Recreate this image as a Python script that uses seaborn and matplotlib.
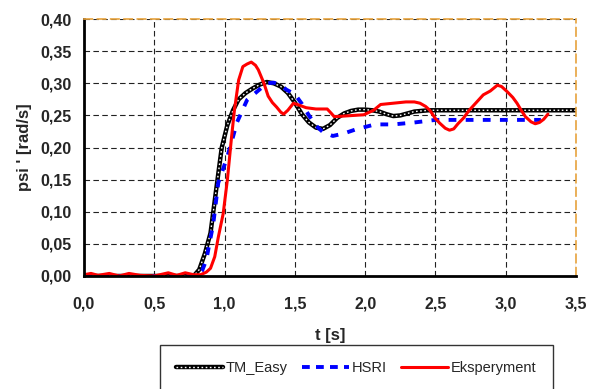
import matplotlib
matplotlib.use("Agg")
import matplotlib.pyplot as plt
import seaborn as sns
from matplotlib.ticker import FuncFormatter, MultipleLocator
from matplotlib.lines import Line2D

# data
t_tm = [0.0, 0.4, 0.78, 0.82, 0.86, 0.9, 0.94, 0.98, 1.02, 1.06, 1.1, 1.15, 1.2, 1.25,
        1.3, 1.35, 1.4, 1.45, 1.5, 1.55, 1.6, 1.65, 1.7, 1.75, 1.8, 1.85, 1.9, 1.95,
        2.0, 2.05, 2.1, 2.15, 2.2, 2.25, 2.3, 2.35, 2.45, 3.0, 3.5]
psi_tm = [0.0, 0.0, 0.0, 0.01, 0.035, 0.067, 0.134, 0.2, 0.235, 0.258, 0.275, 0.285,
          0.292, 0.298, 0.302, 0.300, 0.295, 0.285, 0.27, 0.252, 0.239, 0.231, 0.229,
          0.235, 0.246, 0.253, 0.257, 0.259, 0.259, 0.258, 0.256, 0.252, 0.249, 0.25,
          0.253, 0.256, 0.258, 0.258, 0.258]

t_hsri = [0.0, 0.8, 0.84, 0.87, 0.92, 0.955, 1.02, 1.09, 1.16, 1.22, 1.3, 1.35, 1.4,
          1.44, 1.5, 1.55, 1.6, 1.65, 1.7, 1.77, 1.85, 1.93, 2.0, 2.07, 2.2, 2.35,
          2.5, 3.25]
psi_hsri = [0.0, 0.0, 0.008, 0.025, 0.082, 0.145, 0.186, 0.24, 0.274, 0.285, 0.30,
            0.301, 0.297, 0.29, 0.283, 0.268, 0.25, 0.234, 0.224, 0.218, 0.222, 0.228,
            0.232, 0.236, 0.236, 0.239, 0.243, 0.243]

t_exp = [0.0, 0.05, 0.1, 0.18, 0.25, 0.32, 0.4, 0.5, 0.6, 0.66, 0.72, 0.78, 0.83,
         0.87, 0.9, 0.93, 0.955, 0.99, 1.02, 1.05, 1.07, 1.1, 1.13, 1.16, 1.19, 1.22,
         1.24, 1.28, 1.31, 1.34, 1.37, 1.4, 1.42, 1.45, 1.49, 1.53, 1.58, 1.65, 1.73,
         1.76, 1.78, 1.85, 1.99, 2.06, 2.11, 2.2, 2.29, 2.35, 2.39, 2.43, 2.46, 2.5,
         2.53, 2.57, 2.6, 2.63, 2.66, 2.7, 2.74, 2.79, 2.84, 2.89, 2.94, 2.97, 3.01,
         3.05, 3.08, 3.11, 3.14, 3.18, 3.21, 3.24, 3.27, 3.3]
psi_exp = [0.002, 0.004, 0.001, 0.004, 0.0, 0.004, 0.001, 0.0, 0.005, 0.001, 0.005,
           0.002, 0.002, 0.006, 0.012, 0.03, 0.06, 0.097, 0.15, 0.217, 0.258, 0.305,
           0.326, 0.33, 0.333, 0.328, 0.321, 0.30, 0.28, 0.27, 0.263, 0.255, 0.252,
           0.258, 0.269, 0.266, 0.262, 0.26, 0.26, 0.253, 0.248, 0.249, 0.251, 0.258,
           0.267, 0.269, 0.271, 0.271, 0.269, 0.264, 0.258, 0.245, 0.238, 0.23, 0.227,
           0.229, 0.237, 0.246, 0.258, 0.27, 0.282, 0.288, 0.297, 0.295, 0.287, 0.278,
           0.269, 0.258, 0.248, 0.24, 0.237, 0.239, 0.244, 0.252]

sns.set_style("white")
plt.rcParams['font.family'] = ['Liberation Sans', 'DejaVu Sans']

fig = plt.figure(figsize=(5.89, 3.89), dpi=100)
ax = fig.add_axes([0.1426, 0.2905, 0.8354, 0.6605])

# TM_Easy: black line with white dots on top
sns.lineplot(x=t_tm, y=psi_tm, ax=ax, color='black', lw=3.2, sort=False)
sns.lineplot(x=t_tm, y=psi_tm, ax=ax, color='white', lw=1.0, sort=False,
             linestyle=(0, (1.2, 1.8)))
# HSRI: blue dashes
sns.lineplot(x=t_hsri, y=psi_hsri, ax=ax, color='#0000ff', lw=2.8, sort=False,
             linestyle=(0, (2.0, 2.4)))
# experiment: red solid
sns.lineplot(x=t_exp, y=psi_exp, ax=ax, color='#ff0000', lw=2.2, sort=False)

ax.set_xlim(0, 3.5)
ax.set_ylim(0, 0.4)
ax.xaxis.set_major_locator(MultipleLocator(0.5))
ax.yaxis.set_major_locator(MultipleLocator(0.05))
ax.xaxis.set_major_formatter(FuncFormatter(lambda v, p: f"{v:.1f}".replace('.', ',')))
ax.yaxis.set_major_formatter(FuncFormatter(lambda v, p: f"{v:.2f}".replace('.', ',')))
ax.tick_params(axis='both', direction='out', length=4, width=1.5, color='black',
               labelsize=11.5)
ax.tick_params(axis='x', pad=11)
ax.tick_params(axis='y', pad=5)
for lab in ax.get_xticklabels() + ax.get_yticklabels():
    lab.set_fontweight('bold')

ax.grid(True, color='#222222', lw=0.8, linestyle=(0, (5, 3)))
ax.set_axisbelow(True)

for s in ['left', 'bottom']:
    ax.spines[s].set_color('black')
    ax.spines[s].set_linewidth(2)
for s in ['top', 'right']:
    ax.spines[s].set_color('#e8a33d')
    ax.spines[s].set_linewidth(1.2)
    ax.spines[s].set_linestyle((0, (5, 3)))

ax.set_xlabel('t [s]', fontsize=12, fontweight='bold', labelpad=12)
ax.set_ylabel("psi ' [rad/s]", fontsize=12, fontweight='bold', labelpad=6)

h_tm = (Line2D([], [], color='black', lw=3.2),
        Line2D([], [], color='white', lw=1.0, linestyle=(0, (1.2, 1.8))))
h_hsri = Line2D([], [], color='#0000ff', lw=2.8, linestyle=(0, (2.0, 1.6)))
h_exp = Line2D([], [], color='#ff0000', lw=2.2)
leg = fig.legend([h_tm, h_hsri, h_exp], ['TM_Easy', 'HSRI', 'Eksperyment'],
                 loc='upper left', bbox_to_anchor=(0.2716, 0.1131), ncol=3,
                 fontsize=10.5, handlelength=3.2, handletextpad=0.2,
                 columnspacing=1.0, borderpad=1.1, borderaxespad=0,
                 fancybox=False, frameon=True)
leg.get_frame().set_edgecolor('black')
leg.get_frame().set_linewidth(1.0)

fig.savefig('out.png', dpi=100)
